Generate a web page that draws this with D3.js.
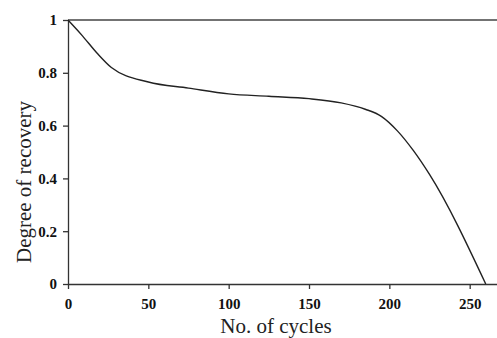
<!DOCTYPE html>
<html>
<head>
<meta charset="utf-8">
<script src="https://cdn.jsdelivr.net/npm/d3@7"></script>
<style>
body { margin:0; background:#fff; }
.tick text { font-family:"Liberation Serif", serif; font-weight:bold; font-size:15px; fill:#111; }
.lbl { font-family:"Liberation Serif", serif; font-size:21px; fill:#222; }
</style>
</head>
<body>
<div id="chart"></div>
<script>
// cycles vs degree of recovery
var cycles = [0, 9, 18, 27, 50, 75, 100, 125, 150, 170, 185, 195, 205, 215, 225, 260];
var recovery = [1, 0.94, 0.875, 0.82, 0.765, 0.742, 0.72, 0.711, 0.702, 0.686, 0.662, 0.635, 0.58, 0.505, 0.415, 0];
var xTicks = [0, 50, 100, 150, 200, 250];
var yTicks = [0, 0.2, 0.4, 0.6, 0.8, 1];

var width = 497, height = 338;
var m = {left:68, right:0, top:20, bottom:54};

var svg = d3.select("#chart").append("svg")
  .attr("width", width).attr("height", height);

var x = d3.scaleLinear().domain([0, 267]).range([m.left, width - m.right]);
var y = d3.scaleLinear().domain([0, 1]).range([height - m.bottom, m.top]);

svg.append("g")
  .attr("transform", "translate(0," + y(0) + ")")
  .call(d3.axisBottom(x).tickValues(xTicks).tickFormat(d3.format("d")).tickSize(5).tickPadding(9).tickSizeOuter(0));

svg.append("g")
  .attr("transform", "translate(" + x(0) + ",0)")
  .call(d3.axisLeft(y).tickValues(yTicks).tickFormat(function(d){ return d === 0 || d === 1 ? d : d3.format(".1f")(d); }).tickSize(5).tickPadding(6).tickSizeOuter(0));

svg.selectAll(".domain, .tick line").attr("stroke", "#333").attr("stroke-width", 1.3);

// top line at 1
svg.append("line")
  .attr("x1", x(0)).attr("x2", width)
  .attr("y1", y(1)).attr("y2", y(1))
  .attr("stroke", "#444").attr("stroke-width", 1.3);

var line = d3.line()
  .x(function(d, i){ return x(cycles[i]); })
  .y(function(d){ return y(d); })
  .curve(d3.curveMonotoneX);

svg.append("path")
  .datum(recovery)
  .attr("d", line)
  .attr("fill", "none")
  .attr("stroke", "#222")
  .attr("stroke-width", 1.4);

svg.append("text").attr("class", "lbl")
  .attr("x", 276).attr("y", 333)
  .attr("text-anchor", "middle")
  .text("No. of cycles");

svg.append("text").attr("class", "lbl")
  .attr("transform", "translate(31," + 182 + ") rotate(-90)")
  .attr("text-anchor", "middle")
  .text("Degree of recovery");
</script>
</body>
</html>
